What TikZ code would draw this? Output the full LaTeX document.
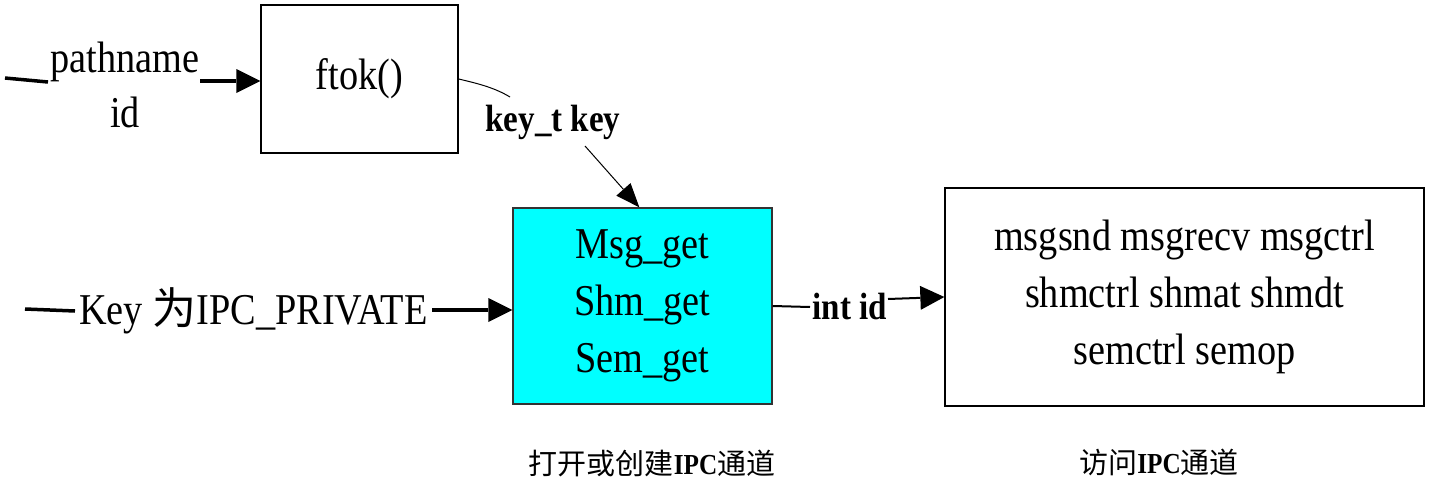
\documentclass[tikz,border=0pt]{standalone}
\usepackage{fontspec}
\setmainfont[FakeStretch=0.87]{Liberation Serif}
\newfontfamily\cjk{Noto Sans CJK SC}
\usetikzlibrary{arrows.meta,calc}
\definecolor{aqua}{RGB}{0,255,255}
\tikzset{
  box/.style={draw=black,line width=1.3pt,inner sep=0pt,align=center,
    font=\fontsize{44}{57}\selectfont},
  lbl/.style={inner sep=0pt,align=center,font=\fontsize{44}{55}\selectfont},
  blbl/.style={inner sep=0pt,font=\fontsize{38}{40}\selectfont\bfseries},
  captext/.style={inner sep=0pt,font=\fontsize{29}{30}\selectfont},
  thickline/.style={line width=3.5pt},
  thinline/.style={line width=1pt},
  bigarrow/.style={-{Triangle[length=24pt,width=24pt,line width=0pt]}}
}
\begin{document}
\begin{tikzpicture}[x=1pt,y=-1pt]
\useasboundingbox (0,0) rectangle (1430,493);
% boxes
\node[box,minimum width=197pt,minimum height=148pt] (ftok) at (359.5,79) {ftok()};
\node[box,fill=aqua,draw=black!80,minimum width=259pt,minimum height=196pt] (get) at (642.5,306)
  {Msg\_get\\Shm\_get\\Sem\_get};
\node[box,minimum width=479pt,minimum height=218pt] (acc) at (1184.5,297)
  {msgsnd msgrecv msgctrl\\shmctrl shmat shmdt\\semctrl semop};
% pathname / id
\node[lbl] (pn) at (125,85) {pathname\\id};
\coordinate (p0) at (5,78);
\coordinate (p1) at (48,82);
\coordinate (p2) at (200,81);
\draw[thickline] (p0) -- (p1);
\draw[thickline,bigarrow] (p2) -- (p2 -| ftok.west);
% key_t key
\node[blbl] (kt) at (553,122) {key\_t key};
\coordinate (k1) at (510,97);
\coordinate (k2) at (585,146);
\draw[thinline] (ftok.east) .. controls (480,84) and (495,88) .. (k1);
\draw[thinline,-{Triangle[length=24pt,width=19pt,line width=0pt]}] (k2) -- ($(get.north west)+(127,0)$);
% Key IPC_PRIVATE
\node[lbl] (kp) at (253.5,311) {Key {\cjk 为}IPC\_PRIVATE};
\coordinate (q0) at (25,309);
\coordinate (q1) at (75,311);
\coordinate (q2) at (432,310);
\draw[thickline] (q0) -- (q1);
\draw[thickline,bigarrow] (q2) -- (q2 -| get.west);
% int id
\node[blbl] (ii) at (850,306) {int id};
\coordinate (i1) at (810,307);
\coordinate (i2) at (888,299);
\draw[line width=2pt] (get.east) -- (i1);
\draw[line width=2pt,bigarrow] (i2) -- (acc.west);
% captions
\node[captext] (c1) at (652,463) {{\cjk 打开或创建}{\bfseries IPC}{\cjk 通道}};
\node[captext] (c2) at (1159,462) {{\cjk 访问}{\bfseries IPC}{\cjk 通道}};
\end{tikzpicture}
\end{document}
